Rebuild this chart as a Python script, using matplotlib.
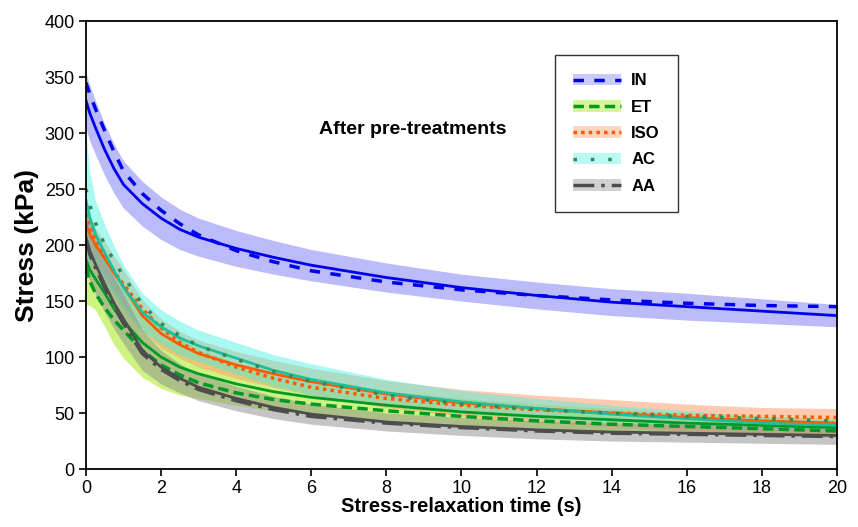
import numpy as np
import matplotlib.pyplot as plt
from matplotlib.patches import Patch
from matplotlib.lines import Line2D

plt.rcParams['font.family'] = ['Liberation Sans', 'DejaVu Sans']

# time points (s)
t = [0, 0.1, 0.25, 0.5, 0.75, 1, 1.5, 2, 2.5, 3, 4, 5, 6, 8, 10, 12, 14, 16, 18, 20]

# IN: measured mean, fitted model, spread
in_mean = [329, 318, 305, 285, 268, 254, 237, 224, 214, 207, 197, 189, 182, 171, 162, 155, 149, 145, 141, 137]
in_fit = [345, 335, 322, 302, 283, 266, 246, 231, 219, 209, 195, 185, 177, 167, 160, 155, 151, 148, 146, 145]
in_sd = [25, 25, 24, 23, 22, 21, 20, 19, 18, 17, 16, 15, 14, 13, 12, 12, 12, 12, 11, 10]

# ET
et_mean = [187, 178, 170, 157, 143, 132, 113, 100, 91, 85, 76, 69, 64, 57, 51, 47, 44, 41, 39, 37]
et_fit = [180, 168, 157, 144, 133, 124, 106, 93, 84, 77, 68, 62, 58, 52, 47, 43, 40, 38, 36, 34]
et_sd = [40, 32, 28, 30, 32, 33, 31, 28, 25, 22, 19, 17, 15, 13, 12, 11, 10, 9, 8, 8]

# ISO
iso_mean = [218, 210, 200, 188, 175, 163, 137, 121, 111, 103, 93, 85, 78, 67, 59, 54, 50, 46, 43, 41]
iso_fit = [228, 216, 204, 190, 176, 165, 143, 126, 113, 104, 91, 81, 73, 63, 57, 53, 50, 48, 47, 46]
iso_sd = [15, 15, 15, 15, 15, 15, 14, 13, 12, 12, 12, 12, 12, 12, 12, 12, 12, 12, 12, 13]

# AC
ac_mean = [240, 225, 210, 193, 177, 162, 140, 127, 117, 110, 99, 88, 80, 68, 60, 54, 49, 45, 41, 39]
ac_fit = [250, 236, 220, 200, 186, 172, 147, 130, 119, 110, 98, 87, 78, 66, 58, 53, 50, 47, 45, 43]
ac_sd = [60, 40, 30, 25, 22, 20, 17, 15, 15, 14, 14, 14, 14, 12, 10, 9, 8, 7, 6, 5]

# AA
aa_mean = [207, 195, 183, 165, 148, 134, 106, 91, 81, 73, 63, 55, 49, 42, 38, 35, 33, 32, 31, 30]
aa_fit = [205, 192, 180, 162, 145, 130, 103, 89, 79, 71, 61, 53, 47, 41, 37, 34, 32, 31, 30, 29]
aa_sd = [28, 27, 27, 25, 23, 22, 18, 15, 13, 12, 11, 10, 9, 8, 8, 8, 8, 8, 8, 8]

groups = [
    ('IN', in_mean, in_fit, in_sd, '#0000ee', '#0000ee', '#7878f5', 0.5, (0, (3, 3))),
    ('ET', et_mean, et_fit, et_sd, '#009926', '#009926', '#b8f04a', 0.7, (0, (3, 1.5))),
    ('ISO', iso_mean, iso_fit, iso_sd, '#ff5a00', '#ff5a00', '#ffa070', 0.55, (0, (1, 1.2))),
    ('AC', ac_mean, ac_fit, ac_sd, '#1fbf9a', '#2e8b57', '#40f0e0', 0.45, (0, (1, 4))),
    ('AA', aa_mean, aa_fit, aa_sd, '#4d4d4d', '#4d4d4d', '#8c8c8c', 0.5, (0, (6, 2, 1, 2))),
]

fig = plt.figure(figsize=(8.58, 5.27), dpi=100)
ax = fig.add_axes([0.1002, 0.110, 0.8753, 0.850])

tt = np.array(t)
handles = []
for name, mean, fit, sd, lc, fc, bc, a, ls in groups:
    m = np.array(mean)
    s = np.array(sd)
    ax.fill_between(tt, m - s, m + s, color=bc, alpha=a, lw=0)
    ax.plot(tt, m, color=lc, lw=2)
    ax.plot(tt, fit, color=fc, lw=2.5, linestyle=ls)
    handles.append((Patch(facecolor=bc, alpha=a * 0.8, lw=0),
                    Line2D([], [], color=fc, lw=2.5, linestyle=ls)))

ax.set_xlim(0, 20)
ax.set_ylim(0, 400)
ax.set_xticks(range(0, 21, 2))
ax.set_yticks(range(0, 401, 50))
ax.tick_params(direction='out', labelsize=13, width=1.2, length=5, pad=3)
for sp in ax.spines.values():
    sp.set_linewidth(1.3)

ax.set_xlabel('Stress-relaxation time (s)', fontsize=14.5, fontweight='bold', labelpad=0)
ax.set_ylabel('Stress (kPa)', fontsize=19, fontweight='bold', labelpad=4)

ax.text(8.7, 303, 'After pre-treatments', fontsize=14, fontweight='bold', ha='center', va='center')

leg = ax.legend(handles, [g[0] for g in groups], loc='upper left',
                bbox_to_anchor=(0.624, 0.924), frameon=True, fancybox=False,
                edgecolor='black', handlelength=2.9, handleheight=0.7,
                labelspacing=0.68, borderpad=1.1, handletextpad=0.6,
                borderaxespad=0,
                prop={'weight': 'bold', 'size': 12})
leg.get_frame().set_linewidth(1.0)

fig.savefig('out.png', dpi=100)
